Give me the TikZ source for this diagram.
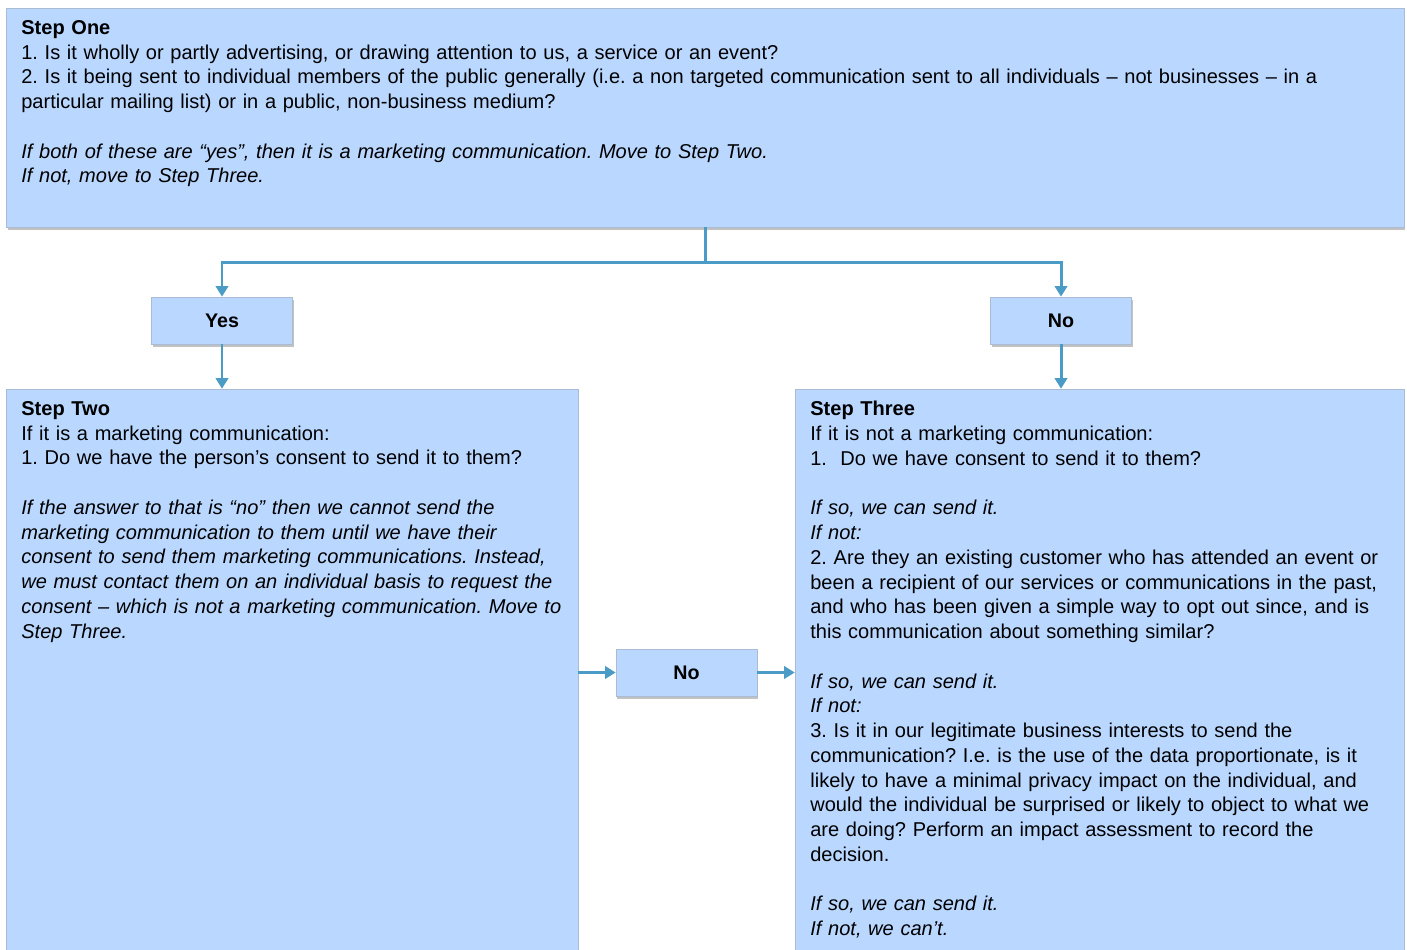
\documentclass[tikz,border=0pt]{standalone}
\usepackage{fontspec}
\setmainfont{Liberation Sans}
\usetikzlibrary{arrows.meta,shadows,positioning}
\definecolor{boxblue}{HTML}{B9D7FF}
\definecolor{boxline}{HTML}{A9BCD3}
\definecolor{flowblue}{HTML}{4A9BC6}
\frenchspacing

\begin{document}
\begin{tikzpicture}[x=0.02cm,y=-0.02cm,
  panel/.style={rectangle, fill=boxblue, draw=boxline, line width=0.4pt, inner sep=0pt,
    drop shadow={shadow xshift=0.8pt, shadow yshift=-1.5pt, opacity=0.4, fill=black!60}},
  answer/.style={panel, minimum width=2.82cm, minimum height=0.94cm,
    font=\fontsize{11.2}{14}\selectfont\bfseries},
  words/.style={anchor=north west, align=left, inner sep=0pt,
    font=\fontsize{11.4}{14.1}\selectfont},
  flow/.style={draw=flowblue, line width=1.7pt, -{Triangle[width=7pt,length=6pt]}}]
  \useasboundingbox (0,0) rectangle (1407,950);

  % the three step panels
  \node[panel, minimum width=27.96cm, minimum height=4.38cm] (one) at (705,117.5) {};
  \node[panel, minimum width=11.44cm, minimum height=11.32cm] (two) at (292,672) {};
  \node[panel, minimum width=12.18cm, minimum height=11.32cm] (three) at (1099.5,672) {};

  % answers
  \node[answer] (yes) at (222,320.5) {Yes};
  \node[answer] (no) at (1061,320.5) {No};
  \node[answer] (mid) at (686.5,672.5) {No};

  % texts
  \node[words, text width=27.5cm] (onetext) at (21,20) {%
    \textbf{Step One}\\
    1. Is it wholly or partly advertising, or drawing attention to us, a service or an event?\\
    2. Is it being sent to individual members of the public generally (i.e. a non targeted communication sent to all individuals -- not businesses -- in a\\
    particular mailing list) or in a public, non-business medium?\\[14pt]
    \itshape If both of these are “yes”, then it is a marketing communication. Move to Step Two.\\
    If not, move to Step Three.};

  \node[words, text width=11.2cm] (twotext) at (21,401) {%
    \textbf{Step Two}\\
    If it is a marketing communication:\\
    1. Do we have the person’s consent to send it to them?\\[14pt]
    \itshape If the answer to that is “no” then we cannot send the\\
    marketing communication to them until we have their\\
    consent to send them marketing communications. Instead,\\
    we must contact them on an individual basis to request the\\
    consent -- which is not a marketing communication. Move to\\
    Step Three.};

  \node[words, text width=11.9cm] (threetext) at (810,401) {%
    \textbf{Step Three}\\
    If it is not a marketing communication:\\
    1.~~Do we have consent to send it to them?\\[14pt]
    \textit{If so, we can send it.}\\
    \textit{If not:}\\
    2. Are they an existing customer who has attended an event or\\
    been a recipient of our services or communications in the past,\\
    and who has been given a simple way to opt out since, and is\\
    this communication about something similar?\\[14pt]
    \textit{If so, we can send it.}\\
    \textit{If not:}\\
    3. Is it in our legitimate business interests to send the\\
    communication? I.e. is the use of the data proportionate, is it\\
    likely to have a minimal privacy impact on the individual, and\\
    would the individual be surprised or likely to object to what we\\
    are doing? Perform an impact assessment to record the\\
    decision.\\[14pt]
    \textit{If so, we can send it.}\\
    \textit{If not, we can’t.}};

  % connectors
  \draw[flow] (one.south) -- ++(0,35) -| (yes.north);
  \draw[flow] (one.south) -- ++(0,35) -| (no.north);
  \draw[flow] (yes.south) -- (yes.south |- two.north);
  \draw[flow] (no.south) -- (no.south |- three.north);
  \draw[flow] (two.east |- mid.west) -- (mid.west);
  \draw[flow] (mid.east) -- (mid.east -| three.west);
\end{tikzpicture}
\end{document}
